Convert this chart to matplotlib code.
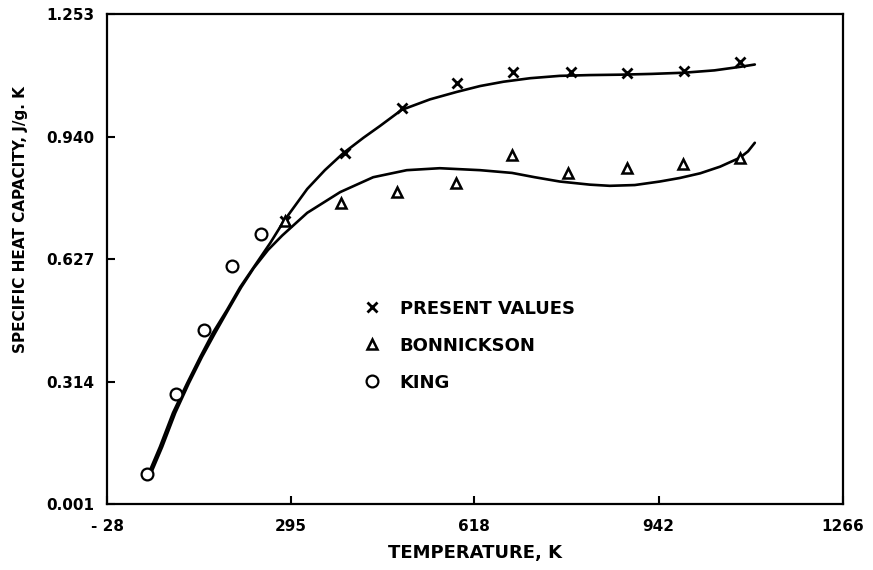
import numpy as np
from matplotlib import pyplot as plt

# measured points
x_present = [285, 390, 491, 587, 686, 788, 886, 986, 1085]
y_present = [0.724, 0.899, 1.012, 1.077, 1.106, 1.106, 1.103, 1.108, 1.131]

x_bonn = [285, 383, 481, 586, 684, 783, 886, 984, 1085]
y_bonn = [0.724, 0.769, 0.797, 0.820, 0.894, 0.846, 0.859, 0.870, 0.884]

x_king = [42, 93, 142, 191, 242]
y_king = [0.078, 0.283, 0.445, 0.609, 0.691]

# fitted curves
xc_present = [44, 65, 88, 113, 136, 158, 183, 206, 229, 259, 283, 324, 355, 387,
              423, 452, 490, 540, 587, 628, 669, 716, 768, 821, 874, 930, 986,
              1040, 1085, 1111]
yc_present = [0.075, 0.147, 0.234, 0.310, 0.377, 0.438, 0.497, 0.555, 0.604, 0.668,
              0.724, 0.806, 0.854, 0.897, 0.937, 0.967, 1.008, 1.035, 1.054, 1.069,
              1.080, 1.089, 1.095, 1.097, 1.098, 1.100, 1.103, 1.109, 1.118, 1.124]

xc_bonn = [48, 69, 92, 116, 139, 162, 185, 208, 230, 255, 280, 324, 382, 440,
           499, 557, 628, 684, 724, 768, 821, 856, 900, 944, 979, 1015, 1050,
           1085, 1099, 1111]
yc_bonn = [0.075, 0.147, 0.234, 0.310, 0.377, 0.438, 0.497, 0.555, 0.604, 0.650,
           0.687, 0.745, 0.798, 0.836, 0.854, 0.859, 0.854, 0.847, 0.836, 0.825,
           0.817, 0.814, 0.816, 0.825, 0.834, 0.846, 0.863, 0.886, 0.902, 0.924]

xticks = [-28, 295, 618, 942, 1266]
xtick_labels = ["- 28", "295", "618", "942", "1266"]
yticks = [0.001, 0.314, 0.627, 0.940, 1.253]
ytick_labels = ["0.001", "0.314", "0.627", "0.940", "1.253"]

plt.rcParams['font.family'] = 'DejaVu Sans'
plt.rcParams['font.weight'] = 'bold'

fig = plt.figure(figsize=(8.73, 5.70), dpi=100)
ax = fig.add_axes([0.1226, 0.1158, 0.8430, 0.8596])

ax.plot(xc_present, yc_present, color="black", lw=1.9,
        solid_capstyle="round", solid_joinstyle="round")
ax.plot(xc_bonn, yc_bonn, color="black", lw=1.9,
        solid_capstyle="round", solid_joinstyle="round")

ax.plot(x_present, y_present, ls="none", marker="x", ms=6.5, mew=2.0, color="black",
        label="PRESENT VALUES")
ax.plot(x_bonn, y_bonn, ls="none", marker="^", ms=6.5, mew=1.8, mfc="white", mec="black",
        label="BONNICKSON")
ax.plot(x_king, y_king, ls="none", marker="o", ms=8.5, mew=1.6, mfc="white", mec="black",
        label="KING")

ax.set_xlim(-28, 1266)
ax.set_ylim(0.001, 1.253)
ax.set_xticks(xticks)
ax.set_xticklabels(xtick_labels, fontsize=11, fontweight="bold")
ax.set_yticks(yticks)
ax.set_yticklabels(ytick_labels, fontsize=11, fontweight="bold")
ax.tick_params(direction="in", length=6, width=1.5, pad=9)
ax.tick_params(axis="x", pad=11)

for s in ax.spines.values():
    s.set_linewidth(1.6)

ax.set_xlabel("TEMPERATURE, K", fontsize=13, fontweight="bold", labelpad=7)
ax.set_ylabel("SPECIFIC HEAT CAPACITY, J/g. K", fontsize=11, fontweight="bold")
ax.yaxis.set_label_coords(-0.108, 0.58)

ax.legend(loc="upper left", bbox_to_anchor=(0.345, 0.417), frameon=False,
          borderpad=0, borderaxespad=0, handlelength=1.2, handletextpad=0.95,
          labelspacing=1.05, numpoints=1, prop={"size": 13, "weight": "bold"})

plt.savefig("out.png", dpi=100)
